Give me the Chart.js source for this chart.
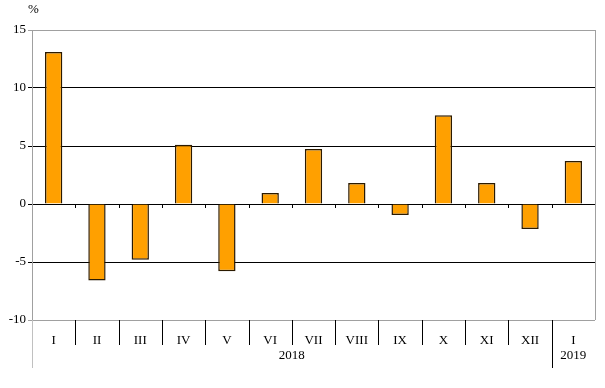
<!DOCTYPE html>
<html>
<head>
<meta charset="utf-8">
<script src="https://cdn.jsdelivr.net/npm/chart.js@4"></script>
<style>
  body { margin: 0; background: #fff; }
  #wrap { width: 605px; height: 388px; }
</style>
</head>
<body>
<div id="wrap"><canvas id="myBarChart"></canvas></div>
<script>
const months = ['I', 'II', 'III', 'IV', 'V', 'VI', 'VII', 'VIII', 'IX', 'X', 'XI', 'XII', 'I'];
const values = [13.1, -6.6, -4.8, 5.1, -5.8, 0.95, 4.75, 1.8, -0.95, 7.65, 1.8, -2.15, 3.7];
const years = [{ label: '2018', from: 0, to: 11 }, { label: '2019', from: 12, to: 12 }];
const yTicks = [-10, -5, 0, 5, 10, 15];

const font = { family: 'Liberation Serif, serif', size: 13 };

// separators, zero line ticks, year labels
const extras = {
    id: 'extras',
    afterDraw(chart) {
        const c = chart.ctx;
        const area = chart.chartArea;
        const x = chart.scales.x;
        const y = chart.scales.y;
        const step = (x.getPixelForValue(1) - x.getPixelForValue(0));
        const y0 = y.getPixelForValue(0);
        c.save();
        c.lineWidth = 1;
        // right border
        c.strokeStyle = '#a0a0a0';
        c.beginPath();
        c.moveTo(area.right + 0.5, area.top);
        c.lineTo(area.right + 0.5, area.bottom);
        c.stroke();
        // left axis down through label rows
        c.strokeStyle = '#c0c0c0';
        c.beginPath();
        c.moveTo(area.left + 0.5, area.bottom);
        c.lineTo(area.left + 0.5, area.bottom + 48);
        c.stroke();
        c.strokeStyle = '#000';
        for (let i = 1; i < months.length; i++) {
            const px = Math.round(x.getPixelForValue(i) - step / 2) + 0.5;
            // tick on zero line
            c.beginPath();
            c.moveTo(px, y0);
            c.lineTo(px, y0 + 4);
            c.stroke();
            // separator below plot
            const long = years.some(yr => yr.from === i);
            c.beginPath();
            c.moveTo(px, area.bottom);
            c.lineTo(px, area.bottom + (long ? 48 : 25));
            c.stroke();
        }
        c.fillStyle = '#000';
        c.font = font.size + 'px ' + font.family;
        c.textAlign = 'center';
        c.textBaseline = 'middle';
        years.forEach(yr => {
            const cx = (x.getPixelForValue(yr.from) + x.getPixelForValue(yr.to)) / 2;
            c.fillText(yr.label, cx, area.bottom + 36);
        });
        c.textAlign = 'left';
        c.fillText('%', 28, 10);
        c.restore();
    }
};

const ctx = document.getElementById('myBarChart').getContext('2d');

new Chart(ctx, {
    type: 'bar',
    data: {
        labels: months,
        datasets: [{
            data: values,
            backgroundColor: '#FFA000',
            borderColor: '#2b1a00',
            borderWidth: 1.5,
            categoryPercentage: 1,
            barPercentage: 0.4
        }]
    },
    plugins: [extras],
    options: {
        responsive: true,
        maintainAspectRatio: false,
        animation: false,
        layout: { padding: { left: 0, top: 30, right: 10, bottom: 0 } },
        scales: {
            x: {
                grid: { display: false },
                border: { display: false },
                ticks: { color: '#000', font: font, padding: 5, maxRotation: 0, autoSkip: false },
                afterFit(scale) { scale.height = 68; }
            },
            y: {
                min: -10,
                max: 15,
                afterBuildTicks(scale) { scale.ticks = yTicks.map(v => ({ value: v })); },
                grid: {
                    color: c => (c.tick && (c.tick.value === 15 || c.tick.value === -10)) ? '#a0a0a0' : '#000',
                    tickLength: 4
                },
                border: { color: '#a0a0a0' },
                ticks: { color: '#000', font: font, padding: 2 },
                afterFit(scale) { scale.width = 32; }
            }
        },
        plugins: {
            legend: { display: false },
            tooltip: { enabled: false }
        }
    }
});
</script>
</body>
</html>
